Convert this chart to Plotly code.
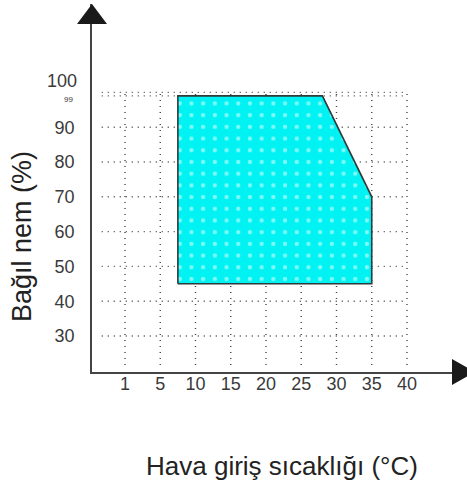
import plotly.graph_objects as go

# ---- data ----
x_tick_pos = [0, 5, 10, 15, 20, 25, 30, 35, 40]
x_tick_text = ["1", "5", "10", "15", "20", "25", "30", "35", "40"]
y_tick_vals = [30, 40, 50, 60, 70, 80, 90]
y_top_vals = [99, 100]          # labelled separately (crowded top)
y_top_text = ["99", "100"]

# operating zone polygon: air inlet temperature (°C) vs relative humidity (%)
zone_temp = [7.5, 7.5, 28, 35, 35, 7.5]
zone_rh = [45, 99, 99, 70, 45, 45]

# ---- layout config ----
X_RANGE = [-4.68, 48.51]
Y_RANGE = [19.66, 125.4]
GRID_X_START = -3.3
GRID_Y_START = 21.7
FONT = "Liberation Sans, Arial, sans-serif"

fig = go.Figure()

all_y_grid = y_tick_vals + y_top_vals
gx, gy = [], []
for xv in x_tick_pos:
    gx += [xv, xv, None]
    gy += [GRID_Y_START, max(all_y_grid), None]
for yv in all_y_grid:
    gx += [GRID_X_START, max(x_tick_pos), None]
    gy += [yv, yv, None]
fig.add_trace(go.Scatter(x=gx, y=gy, mode="lines", hoverinfo="skip",
                         line=dict(color="#444", width=1.4, dash="1px,5px"),
                         showlegend=False))

fig.add_trace(go.Scatter(
    x=zone_temp, y=zone_rh, mode="lines", fill="toself",
    fillcolor="#00F2F2",
    fillpattern=dict(shape=".", bgcolor="#00F2F2", fgcolor="#F4FFFF",
                     size=11.7, solidity=0.11),
    line=dict(color="#2f3a3a", width=1.6),
    showlegend=False, hoverinfo="skip"))

axis_common = dict(showgrid=False, zeroline=False, showline=True,
                   linecolor="#444", linewidth=1.5, ticks="",
                   tickfont=dict(family=FONT, size=18, color="#3a3a3a"))

annotations = [
    dict(text="Hava giriş sıcaklığı (°C)", xref="paper", yref="paper",
         x=0.507, y=-0.2554, xanchor="center", yanchor="middle",
         showarrow=False, font=dict(family=FONT, size=26, color="#222")),
    dict(text="Bağıl nem (%)", xref="paper", yref="paper",
         x=-0.1867, y=0.3696, xanchor="center", yanchor="middle",
         textangle=-90, showarrow=False,
         font=dict(family=FONT, size=27, color="#222")),
]
# top labels: 99 small just under its line, 100 lifted above its line
top_style = {99: (8, -4, -17), 100: (18, 11, -13)}
for v, t in zip(y_top_vals, y_top_text):
    size, yshift, xshift = top_style[v]
    annotations.append(dict(text=t, xref="paper", yref="y", x=0, y=v,
                            xanchor="right", yanchor="middle",
                            xshift=xshift, yshift=yshift,
                            showarrow=False,
                            font=dict(family=FONT, size=size, color="#3a3a3a")))

fig.update_layout(
    width=467, height=481,
    margin=dict(l=92, r=0, t=4, b=109),
    paper_bgcolor="white", plot_bgcolor="white",
    xaxis=dict(range=X_RANGE, tickmode="array", tickvals=x_tick_pos,
               ticktext=x_tick_text, ticklabelstandoff=-5, **axis_common),
    yaxis=dict(range=Y_RANGE, tickmode="array", tickvals=y_tick_vals,
               ticktext=[str(v) for v in y_tick_vals], ticklabelstandoff=12,
               **axis_common),
    shapes=[
        dict(type="path", xref="paper", yref="paper",
             xsizemode="pixel", ysizemode="pixel", xanchor=0, yanchor=1,
             path="M -15 -20 L 15 -20 L 0 0 Z",
             fillcolor="#1a1a1a", line=dict(width=0)),
        dict(type="path", xref="paper", yref="paper",
             xsizemode="pixel", ysizemode="pixel", xanchor=1, yanchor=0,
             path="M -15 13 L -15 -13 L 8 0 Z",
             fillcolor="#1a1a1a", line=dict(width=0)),
    ],
    annotations=annotations,
)

fig.write_html("out.html", config={"displayModeBar": False},
               post_script="document.body.style.margin='0';"
                           "document.body.style.overflow='hidden';")
